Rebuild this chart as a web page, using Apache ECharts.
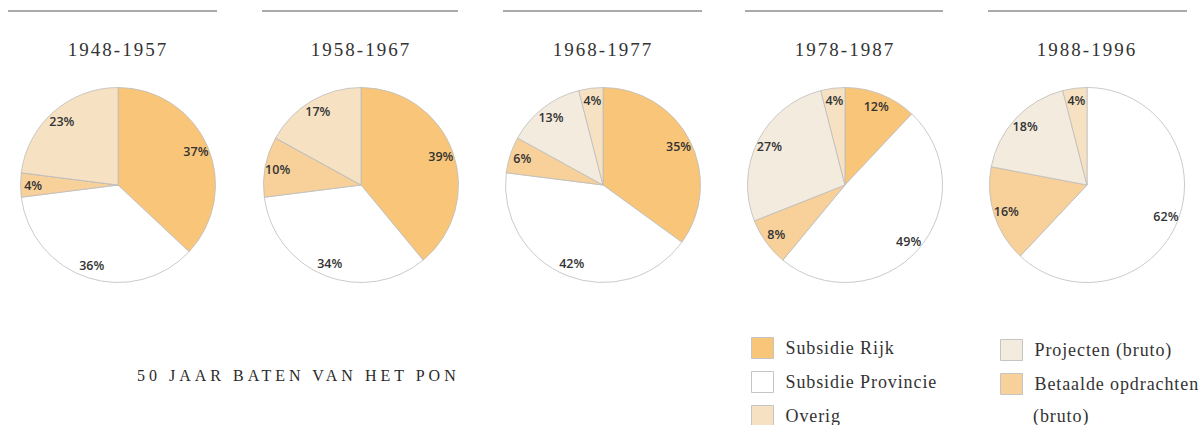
<!DOCTYPE html>
<html><head><meta charset="utf-8">
<script src="https://cdn.jsdelivr.net/npm/echarts@6/dist/echarts.min.js"></script>
<style>
html,body{margin:0;padding:0;background:#fff}
#chart{width:1201px;height:425px}
#chart text[style*="19px"]{letter-spacing:2px}
#chart text[style*="18px"]{letter-spacing:0.9px}
#chart text[style*="16px"]{letter-spacing:4px}
</style></head><body><div id="chart"></div>
<script>
// ---- data ----
const periods = ['1948-1957', '1958-1967', '1968-1977', '1978-1987', '1988-1996'];
const categories = ['Subsidie Rijk', 'Subsidie Provincie', 'Betaalde opdrachten (bruto)', 'Projecten (bruto)', 'Overig'];
const subsidieRijk = [37, 39, 35, 12, 0];
const subsidieProvincie = [36, 34, 42, 49, 62];
const betaaldeOpdrachten = [4, 10, 6, 8, 16];
const projecten = [0, 0, 13, 27, 18];
const overig = [23, 17, 4, 4, 4];
const chartTitle = '50 JAAR BATEN VAN HET PON';

// ---- style ----
const sliceColors = {
  'Subsidie Rijk': '#f9c679',
  'Subsidie Provincie': '#ffffff',
  'Betaalde opdrachten (bruto)': '#f7d09a',
  'Projecten (bruto)': '#f3ebdd',
  'Overig': '#f6e2c3'
};
const centersX = [118, 361, 603, 845, 1087];
const centerY = 185;
const R = 97.5;
const labelK = 1.64;

const valuesByCategory = [subsidieRijk, subsidieProvincie, betaaldeOpdrachten, projecten, overig];

const chart = echarts.init(document.getElementById('chart'), null, { renderer: 'svg' });

const series = periods.map((p, i) => {
  const cx = centersX[i];
  return {
    type: 'pie',
    name: p,
    center: [cx, centerY],
    radius: [0, R],
    startAngle: 90,
    clockwise: true,
    avoidLabelOverlap: false,
    silent: true,
    itemStyle: { borderColor: '#bdbdbd', borderWidth: 0.8 },
    label: {
      show: true,
      position: 'inside',
      formatter: q => (q.value ? q.value + '%' : ''),
      fontFamily: 'Open Sans',
      fontSize: 12.5,
      fontWeight: 600,
      color: '#333'
    },
    labelLine: { show: false },
    labelLayout: function (q) {
      const lr = q.labelRect;
      const mx = lr.x + lr.width / 2, my = lr.y + lr.height / 2;
      return { x: cx + (mx - cx) * labelK, y: centerY + (my - centerY) * labelK };
    },
    data: categories.map((c, j) => ({
      name: c,
      value: valuesByCategory[j][i],
      itemStyle: { color: sliceColors[c] }
    }))
  };
});

const titles = periods.map((p, i) => ({
  text: p,
  left: centersX[i],
  top: 40,
  textAlign: 'center',
  padding: 0,
  textStyle: { fontFamily: 'Liberation Serif', fontSize: 19, fontWeight: 'normal', color: '#333' }
}));
titles.push({
  text: chartTitle,
  left: 137,
  top: 367,
  padding: 0,
  textStyle: { fontFamily: 'Liberation Serif', fontSize: 16, fontWeight: 'normal', color: '#2a2a2a' }
});

const lineExtents = [[8, 217], [262, 458], [503, 702], [745, 943], [988, 1187]];
const graphics = lineExtents.map(e => ({
  type: 'line',
  shape: { x1: e[0], y1: 11, x2: e[1], y2: 11 },
  style: { stroke: '#555', lineWidth: 1 },
  silent: true
}));
graphics.push({
  type: 'text',
  left: 1033,
  top: 407,
  style: { text: '(bruto)', fontFamily: 'Liberation Serif', fontSize: 18, fill: '#333' }
});

const legendCommon = {
  orient: 'vertical',
  icon: 'rect',
  itemWidth: 22,
  itemHeight: 21,
  itemGap: 12,
  padding: 0,
  height: 120,
  selectedMode: false,
  itemStyle: { borderColor: '#c4c4c4', borderWidth: 1 },
  textStyle: { fontFamily: 'Liberation Serif', fontSize: 18, color: '#333', padding: [0, 0, 0, 7] }
};

chart.setOption({
  backgroundColor: '#ffffff',
  animation: false,
  title: titles,
  legend: [
    Object.assign({}, legendCommon, {
      left: 751, top: 337,
      data: ['Subsidie Rijk', 'Subsidie Provincie', 'Overig']
    }),
    Object.assign({}, legendCommon, {
      left: 1000, top: 339,
      data: ['Projecten (bruto)', 'Betaalde opdrachten (bruto)'],
      formatter: n => (n === 'Betaalde opdrachten (bruto)' ? 'Betaalde opdrachten' : n)
    })
  ],
  graphic: graphics,
  series: series
});
</script></body></html>
